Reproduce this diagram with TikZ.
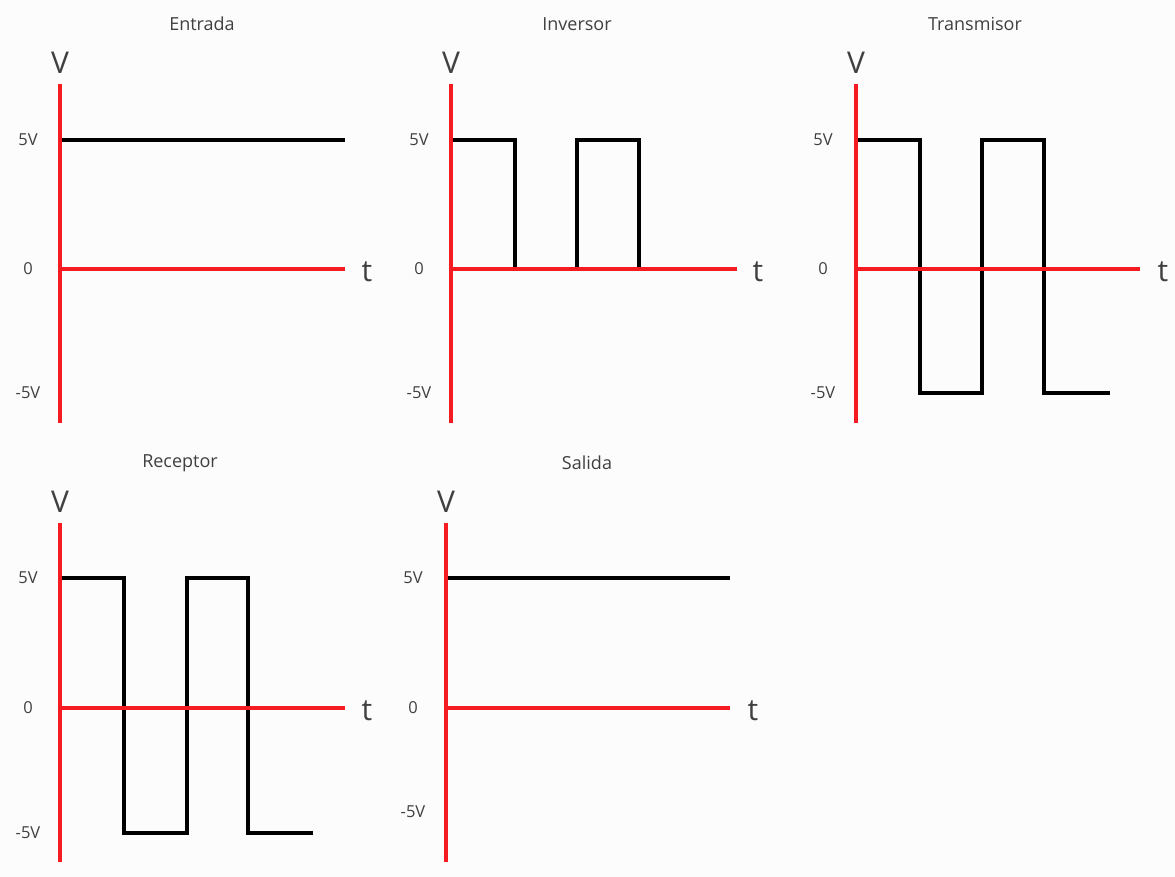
\documentclass[tikz,border=0pt]{standalone}
\usepackage{fontspec}
\setmainfont{Open Sans}
\definecolor{axisred}{RGB}{244,28,32}
\definecolor{sig}{RGB}{0,0,0}
\definecolor{ink}{RGB}{64,64,64}
\definecolor{paper}{RGB}{252,252,252}
\begin{document}
\begin{tikzpicture}[x=1pt,y=-1pt,
  axis/.style={draw=axisred,line width=4.6pt},
  signal/.style={draw=sig,line width=4pt,line join=miter},
  title/.style={text=ink,font=\fontsize{18}{20}\selectfont,inner sep=0pt},
  vlabel/.style={text=ink,font=\fontsize{30}{32}\selectfont,inner sep=0pt},
  tick/.style={text=ink,font=\fontsize{16.5}{18}\selectfont,inner sep=0pt}]
\fill[paper] (0,0) rectangle (1175,877);
\useasboundingbox (0,0) rectangle (1175,877);

% ---------- Entrada ----------
\node[title] (t1) at (202,24) {Entrada};
\node[vlabel] (v1) at (60,63) {V};
\node[vlabel] (tt1) at (367,272) {t};
\node[tick] (a1) at (28,140) {5V};
\node[tick] (b1) at (28,269) {0};
\node[tick] (c1) at (28,393) {-5V};
\draw[signal] (60,140) -- (345,140);
\draw[axis] (60,84) -- (60,423);
\draw[axis] (60,269) -- (345,269);

% ---------- Inversor ----------
\node[title] (t2) at (577,24) {Inversor};
\node[vlabel] (v2) at (451,63) {V};
\node[vlabel] (tt2) at (758,272) {t};
\node[tick] (a2) at (419,140) {5V};
\node[tick] (b2) at (419,269) {0};
\node[tick] (c2) at (419,393) {-5V};
\draw[signal] (451,140) -- (515,140) -- (515,269);
\draw[signal] (577,269) -- (577,140) -- (639,140) -- (639,269);
\draw[axis] (451,84) -- (451,423);
\draw[axis] (451,269) -- (737,269);

% ---------- Transmisor ----------
\node[title] (t3) at (975,24) {Transmisor};
\node[vlabel] (v3) at (856,63) {V};
\node[vlabel] (tt3) at (1163,272) {t};
\node[tick] (a3) at (823,140) {5V};
\node[tick] (b3) at (823,269) {0};
\node[tick] (c3) at (823,393) {-5V};
\draw[signal] (856,140) -- (920,140) -- (920,393) -- (982,393) -- (982,140)
  -- (1044,140) -- (1044,393) -- (1110,393);
\draw[axis] (856,84) -- (856,423);
\draw[axis] (856,269) -- (1140,269);

% ---------- Receptor ----------
\node[title] (t4) at (180,463) {Receptor};
\node[vlabel] (v4) at (60,502) {V};
\node[vlabel] (tt4) at (367,711) {t};
\node[tick] (a4) at (28,578) {5V};
\node[tick] (b4) at (28,708) {0};
\node[tick] (c4) at (28,833) {-5V};
\draw[signal] (60,578) -- (124,578) -- (124,833) -- (187,833) -- (187,578)
  -- (248,578) -- (248,833) -- (313,833);
\draw[axis] (60,523) -- (60,862);
\draw[axis] (60,708) -- (345,708);

% ---------- Salida ----------
\node[title] (t5) at (587,463) {Salida};
\node[vlabel] (v5) at (446,502) {V};
\node[vlabel] (tt5) at (753,711) {t};
\node[tick] (a5) at (413,578) {5V};
\node[tick] (b5) at (413,708) {0};
\node[tick] (c5) at (413,812) {-5V};
\draw[signal] (446,578) -- (730,578);
\draw[axis] (446,523) -- (446,862);
\draw[axis] (446,708) -- (730,708);
\end{tikzpicture}
\end{document}
